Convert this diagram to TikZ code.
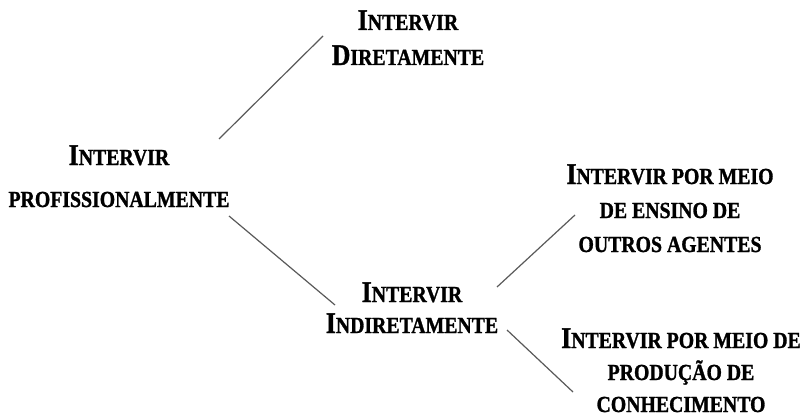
\documentclass[tikz,border=0pt]{standalone}
\usepackage{fontspec}
\setmainfont{Liberation Serif}
\newfontfamily\cond[FakeStretch=0.86,FakeBold=1.2]{Liberation Serif}
% large initial capital for the small-caps headings
\newcommand\ini[1]{{\fontsize{30}{30}\selectfont #1}}
\begin{document}
\begin{tikzpicture}[x=1pt,y=-1pt,
  label/.style={align=center, anchor=base, inner sep=0pt,
    font=\cond\bfseries\fontsize{23}{#1}\selectfont},
  label/.default=34,
  link/.style={draw=black!65, line width=1.2pt}]
\useasboundingbox (0,0) rectangle (803,417);

% each node is anchored at the baseline of its last line
\node[label=42] (prof)  at (119,207) {\ini{I}NTERVIR\\PROFISSIONALMENTE};
\node[label=35] (dir)   at (408,65)  {\ini{I}NTERVIR\\\ini{D}IRETAMENTE};
\node[label=31] (indir) at (412,333) {\ini{I}NTERVIR\\\ini{I}NDIRETAMENTE};
\node[label=34] (ens)   at (670,252) {\ini{I}NTERVIR POR MEIO\\DE ENSINO DE\\OUTROS AGENTES};
\node[label=32] (prod)  at (681,412) {\ini{I}NTERVIR POR MEIO DE\\PRODUÇÃO DE\\CONHECIMENTO};

\draw[link] ([shift={(100,-68)}]prof.base) -- ([shift={(-85,-29)}]dir.base);
\draw[link] ([shift={(110,9)}]prof.base) -- ([shift={(-77,-28)}]indir.base);
\draw[link] ([shift={(85,-46)}]indir.base) -- ([shift={(-95,-37)}]ens.base);
\draw[link] ([shift={(95,-3)}]indir.base) -- ([shift={(-108,-20)}]prod.base);
\end{tikzpicture}
\end{document}
